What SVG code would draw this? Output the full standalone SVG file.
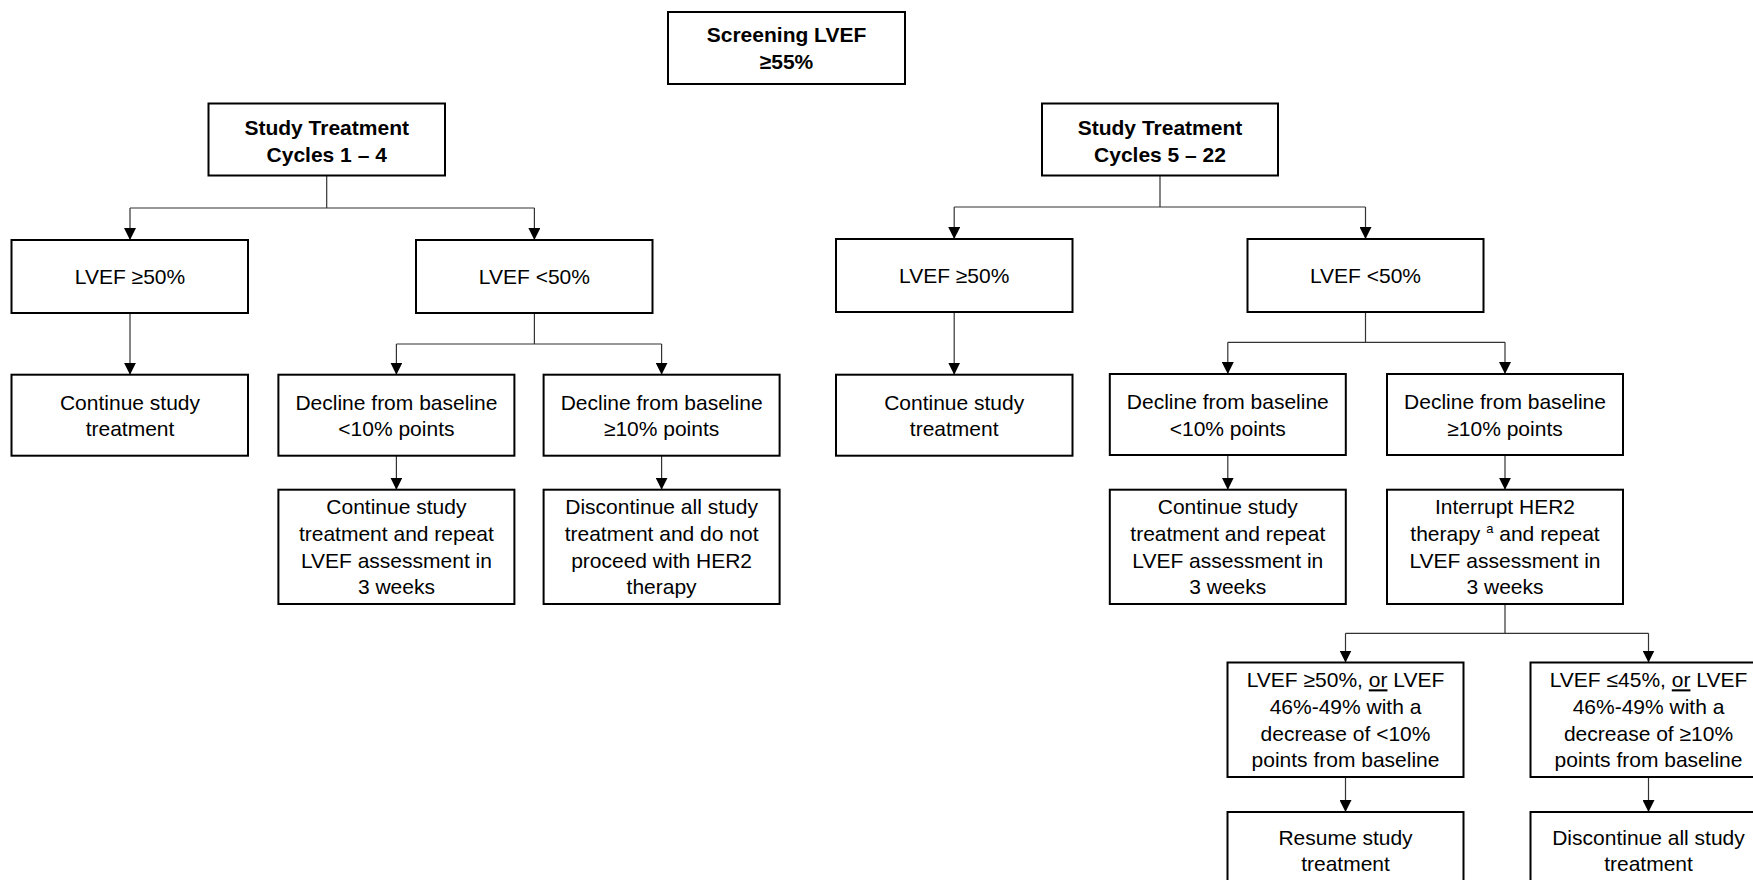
<svg xmlns="http://www.w3.org/2000/svg" width="1753" height="880" viewBox="0 0 1753 880">
<style>
.box{fill:#fff;stroke:#000;stroke-width:2}
.t{font-family:"Liberation Sans",Arial,sans-serif;font-size:21px;text-anchor:middle;fill:#000}
.b{font-weight:bold}
.c{fill:none;stroke:#333;stroke-width:1.2}
.a{marker-end:url(#arr)}
</style>
<defs>
<marker id="arr" markerUnits="userSpaceOnUse" markerWidth="12" markerHeight="12" refX="12" refY="6" orient="auto">
<path d="M0,0 L12,6 L0,12 z" fill="#000"/>
</marker>
</defs>
<rect width="1753" height="880" fill="#fff"/>
<g id="connectors">
<path class="c" d="M326.7,176 V208 M130,208 H534.4"/>
<path class="c a" d="M130,208 V240"/>
<path class="c a" d="M534.4,208 V240"/>
<path class="c" d="M1160,176 V207 M954.2,207 H1365.5"/>
<path class="c a" d="M954.2,207 V239"/>
<path class="c a" d="M1365.5,207 V239"/>
<path class="c a" d="M130,313 V374.7"/>
<path class="c" d="M534.4,313 V344 M396.4,344 H661.6"/>
<path class="c a" d="M396.4,344 V374.7"/>
<path class="c a" d="M661.6,344 V374.7"/>
<path class="c a" d="M396.4,455.7 V489.7"/>
<path class="c a" d="M661.6,455.7 V489.7"/>
<path class="c a" d="M954.2,312 V374.7"/>
<path class="c" d="M1365.5,312 V342.3 M1227.8,342.3 H1505"/>
<path class="c a" d="M1227.8,342.3 V374"/>
<path class="c a" d="M1505,342.3 V374"/>
<path class="c a" d="M1227.8,455 V489.7"/>
<path class="c a" d="M1505,455 V489.7"/>
<path class="c" d="M1505,604 V633.3 M1345.5,633.3 H1648.5"/>
<path class="c a" d="M1345.5,633.3 V662.5"/>
<path class="c a" d="M1648.5,633.3 V662.5"/>
<path class="c a" d="M1345.5,777 V812"/>
<path class="c a" d="M1648.5,777 V812"/>
</g>
<g id="screening">
<rect class="box" x="668" y="12" width="237" height="72"/>
<text class="t b" x="786.5" y="42.3">Screening LVEF</text>
<text class="t b" x="786.5" y="68.8">≥55%</text>
</g>
<g id="cycles14">
<rect class="box" x="208.5" y="103.5" width="236.5" height="72"/>
<text class="t b" x="326.7" y="135">Study Treatment</text>
<text class="t b" x="326.7" y="161.5">Cycles 1 – 4</text>
</g>
<g id="cycles522">
<rect class="box" x="1042" y="103.5" width="236" height="72"/>
<text class="t b" x="1160" y="135">Study Treatment</text>
<text class="t b" x="1160" y="161.5">Cycles 5 – 22</text>
</g>
<g id="l-ge50">
<rect class="box" x="11.5" y="240" width="236.5" height="73"/>
<text class="t" x="130" y="284">LVEF ≥50%</text>
</g>
<g id="l-lt50">
<rect class="box" x="416" y="240" width="236.5" height="73"/>
<text class="t" x="534.4" y="284">LVEF &lt;50%</text>
</g>
<g id="r-ge50">
<rect class="box" x="836" y="239" width="236.5" height="73"/>
<text class="t" x="954.2" y="283">LVEF ≥50%</text>
</g>
<g id="r-lt50">
<rect class="box" x="1247.5" y="239" width="236" height="73"/>
<text class="t" x="1365.5" y="283">LVEF &lt;50%</text>
</g>
<g id="l-continue">
<rect class="box" x="11.5" y="374.7" width="236.5" height="81"/>
<text class="t" x="130" y="409.5">Continue study</text>
<text class="t" x="130" y="436">treatment</text>
</g>
<g id="l-decline-lt10">
<rect class="box" x="278.4" y="374.7" width="236" height="81"/>
<text class="t" x="396.4" y="409.5">Decline from baseline</text>
<text class="t" x="396.4" y="436">&lt;10% points</text>
</g>
<g id="l-decline-ge10">
<rect class="box" x="543.6" y="374.7" width="236" height="81"/>
<text class="t" x="661.6" y="409.5">Decline from baseline</text>
<text class="t" x="661.6" y="436">≥10% points</text>
</g>
<g id="l-continue-repeat">
<rect class="box" x="278.4" y="489.7" width="236" height="114.3"/>
<text class="t" x="396.4" y="514.3">Continue study</text>
<text class="t" x="396.4" y="541">treatment and repeat</text>
<text class="t" x="396.4" y="567.6">LVEF assessment in</text>
<text class="t" x="396.4" y="594.3">3 weeks</text>
</g>
<g id="l-discontinue">
<rect class="box" x="543.6" y="489.7" width="236" height="114.3"/>
<text class="t" x="661.6" y="514.3">Discontinue all study</text>
<text class="t" x="661.6" y="541">treatment and do not</text>
<text class="t" x="661.6" y="567.6">proceed with HER2</text>
<text class="t" x="661.6" y="594.3">therapy</text>
</g>
<g id="r-continue">
<rect class="box" x="836" y="374.7" width="236.5" height="81"/>
<text class="t" x="954.2" y="409.5">Continue study</text>
<text class="t" x="954.2" y="436">treatment</text>
</g>
<g id="r-decline-lt10">
<rect class="box" x="1109.8" y="374" width="236" height="81"/>
<text class="t" x="1227.8" y="409">Decline from baseline</text>
<text class="t" x="1227.8" y="435.5">&lt;10% points</text>
</g>
<g id="r-decline-ge10">
<rect class="box" x="1387" y="374" width="236" height="81"/>
<text class="t" x="1505" y="409">Decline from baseline</text>
<text class="t" x="1505" y="435.5">≥10% points</text>
</g>
<g id="r-continue-repeat">
<rect class="box" x="1109.8" y="489.7" width="236" height="114.3"/>
<text class="t" x="1227.8" y="514.3">Continue study</text>
<text class="t" x="1227.8" y="541">treatment and repeat</text>
<text class="t" x="1227.8" y="567.6">LVEF assessment in</text>
<text class="t" x="1227.8" y="594.3">3 weeks</text>
</g>
<g id="r-interrupt">
<rect class="box" x="1387" y="489.7" width="236" height="114.3"/>
<text class="t" x="1505" y="514.3">Interrupt HER2</text>
<text class="t" x="1505" y="541">therapy <tspan font-size="13" dy="-8">a</tspan><tspan dy="8"> and repeat</tspan></text>
<text class="t" x="1505" y="567.6">LVEF assessment in</text>
<text class="t" x="1505" y="594.3">3 weeks</text>
</g>
<g id="r-resume-cond">
<rect class="box" x="1227.5" y="662.5" width="236" height="114.5"/>
<text class="t" x="1345.5" y="687.3">LVEF ≥50%, <tspan text-decoration="underline">or</tspan> LVEF</text>
<text class="t" x="1345.5" y="714">46%-49% with a</text>
<text class="t" x="1345.5" y="740.6">decrease of &lt;10%</text>
<text class="t" x="1345.5" y="767.3">points from baseline</text>
</g>
<g id="r-discontinue-cond">
<rect class="box" x="1530.5" y="662.5" width="236" height="114.5"/>
<text class="t" x="1648.5" y="687.3">LVEF ≤45%, <tspan text-decoration="underline">or</tspan> LVEF</text>
<text class="t" x="1648.5" y="714">46%-49% with a</text>
<text class="t" x="1648.5" y="740.6">decrease of ≥10%</text>
<text class="t" x="1648.5" y="767.3">points from baseline</text>
</g>
<g id="r-resume">
<rect class="box" x="1227.5" y="812" width="236" height="90"/>
<text class="t" x="1345.5" y="844.5">Resume study</text>
<text class="t" x="1345.5" y="870.5">treatment</text>
</g>
<g id="r-discontinue">
<rect class="box" x="1530.5" y="812" width="236" height="90"/>
<text class="t" x="1648.5" y="844.5">Discontinue all study</text>
<text class="t" x="1648.5" y="870.5">treatment</text>
</g>
</svg>
